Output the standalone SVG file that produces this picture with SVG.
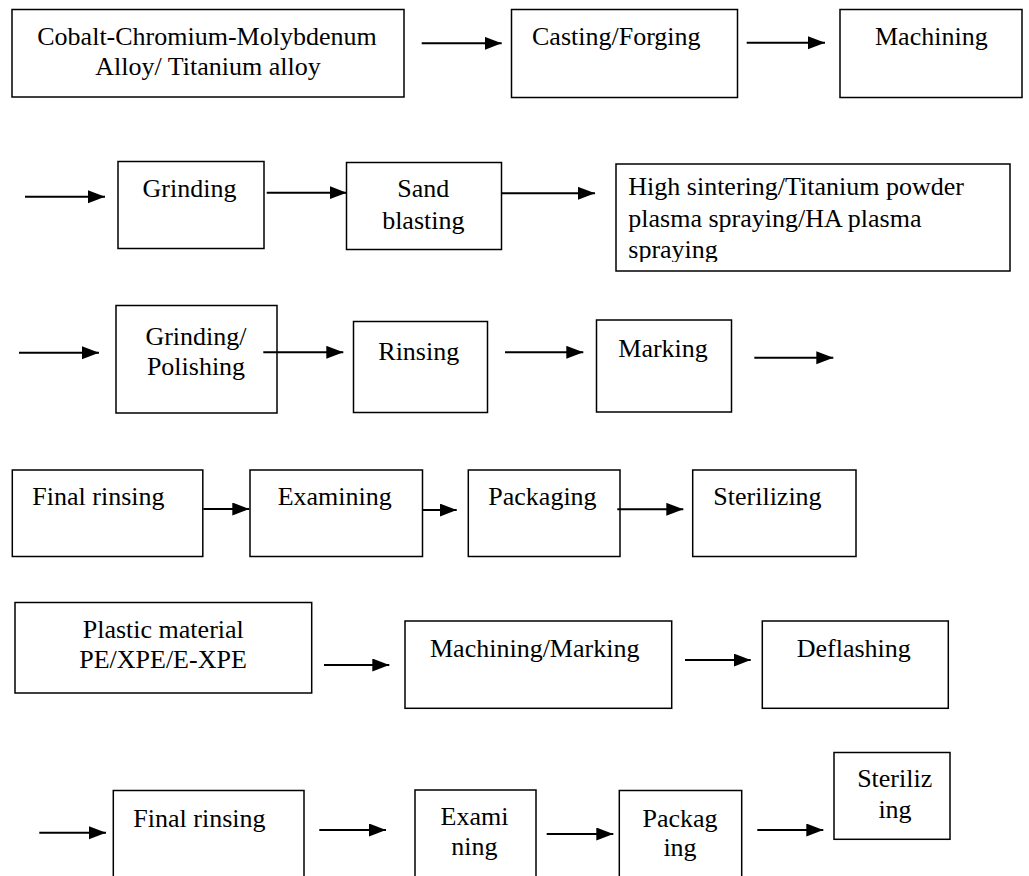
<svg xmlns="http://www.w3.org/2000/svg" width="1029" height="876" viewBox="0 0 1029 876">
<style>
.b{fill:#fff;stroke:#000;stroke-width:1.5}
.t{font-family:"Liberation Serif","Times New Roman",serif;font-size:26px;fill:#000}
.m{text-anchor:middle}
.c{stroke:#000;stroke-width:2;fill:none;marker-end:url(#ah)}
</style>
<defs>
<marker id="ah" markerUnits="userSpaceOnUse" markerWidth="18" markerHeight="14" refX="17" refY="6.5" orient="auto">
<path d="M0,0 L17,6.5 L0,13 z" fill="#000"/>
</marker>
<clipPath id="clipHS"><rect x="616" y="164" width="394" height="98"/></clipPath>
</defs>
<rect width="1029" height="876" fill="#fff"/>
<g id="n1"><rect class="b" x="12" y="9.5" width="392" height="87.5"/><text class="t m" x="207" y="45">Cobalt-Chromium-Molybdenum</text><text class="t m" x="208" y="74.5">Alloy/ Titanium alloy</text></g>
<g id="n2"><rect class="b" x="511.5" y="9.5" width="226" height="88"/><text class="t" x="532" y="45">Casting/Forging</text></g>
<g id="n3"><rect class="b" x="840" y="9.5" width="182" height="88"/><text class="t" x="875" y="45">Machining</text></g>
<g id="n4"><rect class="b" x="118" y="161.5" width="146" height="87"/><text class="t" x="142.5" y="197">Grinding</text></g>
<g id="n5"><rect class="b" x="346.5" y="162.5" width="155" height="87"/><text class="t m" x="423.3" y="197">Sand</text><text class="t m" x="423.3" y="229">blasting</text></g>
<g id="n6"><rect class="b" x="616" y="164" width="394" height="107"/><g clip-path="url(#clipHS)"><text class="t" x="628.3" y="195">High sintering/Titanium powder</text><text class="t" x="628.3" y="227">plasma spraying/HA plasma</text><text class="t" x="628.3" y="258">spraying</text></g></g>
<g id="n7"><rect class="b" x="116" y="305.5" width="161" height="107.5"/><text class="t m" x="196" y="345">Grinding/</text><text class="t m" x="196" y="375">Polishing</text></g>
<g id="n8"><rect class="b" x="353.5" y="321.5" width="134" height="91"/><text class="t" x="378.3" y="360">Rinsing</text></g>
<g id="n9"><rect class="b" x="596.5" y="320" width="135" height="92"/><text class="t" x="618.3" y="356.5">Marking</text></g>
<g id="n10"><rect class="b" x="12.3" y="470" width="190.5" height="86.5"/><text class="t" x="32.3" y="505">Final rinsing</text></g>
<g id="n11"><rect class="b" x="250" y="470" width="172.5" height="86.5"/><text class="t" x="277.7" y="505">Examining</text></g>
<g id="n12"><rect class="b" x="468.3" y="470" width="151.7" height="86.5"/><text class="t" x="488.3" y="505">Packaging</text></g>
<g id="n13"><rect class="b" x="692.7" y="470" width="163.3" height="86.5"/><text class="t" x="713.3" y="505">Sterilizing</text></g>
<g id="n14"><rect class="b" x="15" y="602.5" width="296.7" height="90.5"/><text class="t m" x="163.3" y="638">Plastic material</text><text class="t m" x="163" y="668">PE/XPE/E-XPE</text></g>
<g id="n15"><rect class="b" x="405" y="621" width="266.7" height="87.3"/><text class="t" x="430" y="656.5">Machining/Marking</text></g>
<g id="n16"><rect class="b" x="762.3" y="621" width="186" height="87.3"/><text class="t" x="796.7" y="656.5">Deflashing</text></g>
<g id="n17"><rect class="b" x="113.3" y="790.5" width="190.7" height="100"/><text class="t" x="133.3" y="827">Final rinsing</text></g>
<g id="n18"><rect class="b" x="415" y="790" width="121" height="100"/><text class="t m" x="474.5" y="825">Exami</text><text class="t m" x="474.3" y="855">ning</text></g>
<g id="n19"><rect class="b" x="619.3" y="790.5" width="122.4" height="100"/><text class="t m" x="680" y="827">Packag</text><text class="t m" x="680" y="856">ing</text></g>
<g id="n20"><rect class="b" x="834" y="752.5" width="116" height="86.8"/><text class="t m" x="894.7" y="787">Steriliz</text><text class="t m" x="895" y="818">ing</text></g>
<g id="connectors">
<line class="c" x1="421.7" y1="43.3" x2="501.7" y2="43.3"/>
<line class="c" x1="746.7" y1="42.7" x2="825" y2="42.7"/>
<line class="c" x1="25" y1="196.7" x2="105" y2="196.7"/>
<line class="c" x1="266.7" y1="192.7" x2="346.7" y2="192.7"/>
<line class="c" x1="501.7" y1="193.3" x2="595" y2="193.3"/>
<line class="c" x1="19" y1="352.7" x2="99" y2="352.7"/>
<line class="c" x1="263.3" y1="352.3" x2="343.3" y2="352.3"/>
<line class="c" x1="505" y1="352.3" x2="583.3" y2="352.3"/>
<line class="c" x1="754.3" y1="357.7" x2="833.3" y2="357.7"/>
<line class="c" x1="203.3" y1="509" x2="249.3" y2="509"/>
<line class="c" x1="422.7" y1="510" x2="456.7" y2="510"/>
<line class="c" x1="617.3" y1="509.3" x2="683.3" y2="509.3"/>
<line class="c" x1="324" y1="665" x2="389.3" y2="665"/>
<line class="c" x1="685" y1="660" x2="750.7" y2="660"/>
<line class="c" x1="39.3" y1="832.7" x2="106" y2="832.7"/>
<line class="c" x1="319.3" y1="830" x2="386" y2="830"/>
<line class="c" x1="546.7" y1="834" x2="613.3" y2="834"/>
<line class="c" x1="757.3" y1="830" x2="823.3" y2="830"/>
</g>
</svg>
